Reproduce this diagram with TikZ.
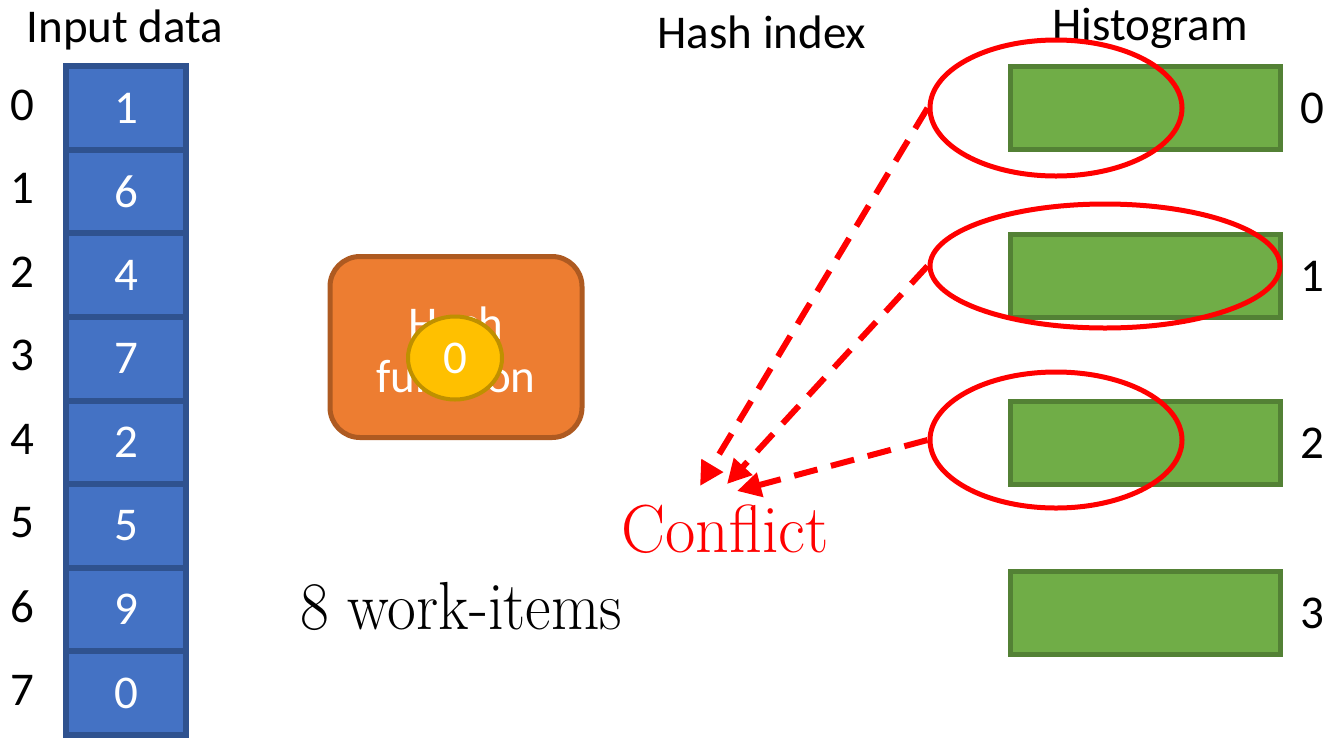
\documentclass[tikz,border=0pt]{standalone}
\usepackage{fontspec}
\newfontfamily\calfont{Carlito}
\usetikzlibrary{arrows.meta,shapes.geometric}
\definecolor{cellblue}{HTML}{4472C4}
\definecolor{cellblueline}{HTML}{2F528F}
\definecolor{hashorange}{HTML}{ED7D31}
\definecolor{hashline}{HTML}{AE5A21}
\definecolor{dotyellow}{HTML}{FFC000}
\definecolor{dotline}{HTML}{BF9000}
\definecolor{bingreen}{HTML}{70AD47}
\definecolor{binline}{HTML}{538135}
\definecolor{hotred}{HTML}{FF0000}
\tikzset{
  x=1pt, y=-1pt,
  sans/.style={font=\calfont\fontsize{47}{56}\selectfont},
  cell/.style={draw=cellblueline, fill=cellblue, line width=6pt, minimum width=120pt,
    minimum height=83.6pt, inner sep=0pt, text=white, sans},
  bin/.style={draw=binline, fill=bingreen, line width=5pt, minimum width=270pt,
    minimum height=83pt, inner sep=0pt},
  ring/.style={draw=hotred, line width=5pt, ellipse, inner sep=0pt},
  conflictarrow/.style={draw=hotred, line width=6pt, dash pattern=on 24pt off 14pt,
    -{Triangle[length=24pt,width=24pt]}},
  big/.style={font=\fontsize{68}{72}\selectfont}
}
\begin{document}
\begin{tikzpicture}
\useasboundingbox (0,0) rectangle (1329,737);

% input array
\node[sans] (title) at (125,30) {Input data};
\foreach \v [count=\i from 0] in {1,6,4,7,2,5,9,0} {
  \node[cell] (c\i) at (126,{108+83.6*\i}) {\v};
  \node[sans, anchor=center] (idx\i) at (22,{105+83.6*\i}) {\i};
}

% hash function
\node[draw=hashline, fill=hashorange, line width=5pt, rounded corners=30pt,
  minimum width=252pt, minimum height=181pt, inner sep=0pt] (hash) at (456,347) {};
\node[sans, text=white, align=center] (hashtext) at (456,350) {Hash\\[-3pt]function};
\node[ellipse, draw=dotline, fill=dotyellow, line width=4pt, minimum width=94pt,
  minimum height=83pt, inner sep=0pt, sans, text=white] (item) at (455,358) {0};

\node[big] (work) at (461,606) {\scalebox{0.92}[1]{8 work-items}};

% histogram
\node[sans] (hidx) at (762,32) {Hash index};
\node[sans] (histo) at (1150,28) {Histogram};
\foreach \yy [count=\i from 0] in {108,276,443,613} {
  \node[bin] (h\i) at (1145,\yy) {};
  \node[sans] (hl\i) at (1312,{\yy}) {\i};
}

% conflicting accesses
\node[ring, minimum width=252pt, minimum height=136pt] (e0) at (1056,108) {};
\node[ring, minimum width=350pt, minimum height=124pt] (e1) at (1105,266) {};
\node[ring, minimum width=252pt, minimum height=136pt] (e2) at (1056,440) {};

\node[big, text=hotred] (conflict) at (725,529) {\scalebox{0.97}[1]{Conflict}};
\coordinate (t0) at (700,486);
\coordinate (t1) at (727,484);
\coordinate (t2) at (737,491);
\draw[conflictarrow] (e0.west) -- (t0);
\draw[conflictarrow] (e1.west) -- (t1);
\draw[conflictarrow] (e2.west) -- (t2);
\end{tikzpicture}
\end{document}
